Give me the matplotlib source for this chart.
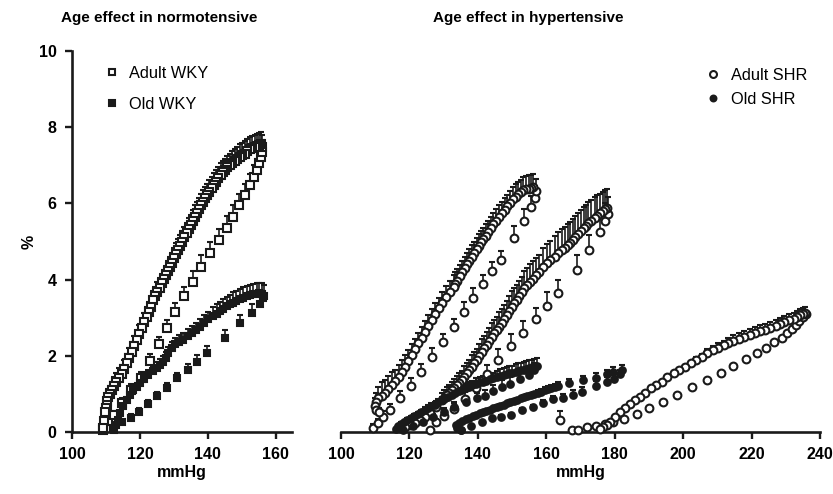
import matplotlib
matplotlib.use("Agg")
import matplotlib.pyplot as plt
from matplotlib.lines import Line2D
import numpy as np

plt.rcParams['font.family'] = ['Liberation Sans', 'DejaVu Sans']

INK = '#1a1a1a'

# ---------------- Age effect in normotensive (WKY) ----------------
# each loop: sparse lower branch ("up") and dense upper branch ("down")
wky_adult_up_x = [109.1, 110.6, 112.3, 114.6, 117.4, 120.3, 122.9, 125.7, 128.1, 130.4,
                  132.9, 135.7, 138.1, 140.6, 143.2, 145.5, 147.3, 149.2, 150.9, 152.4,
                  153.5, 154.3, 155.1, 155.6, 155.9, 156.0]
wky_adult_up_y = [0.05, 0.30, 0.45, 0.75, 1.10, 1.42, 1.86, 2.30, 2.74, 3.16,
                  3.57, 3.95, 4.34, 4.69, 5.04, 5.36, 5.65, 5.96, 6.22, 6.48,
                  6.70, 6.88, 7.05, 7.21, 7.36, 7.49]
wky_adult_up_err = [0.0, 0.1, 0.1, 0.15, 0.15, 0.15, 0.2, 0.2, 0.2, 0.22,
                    0.25, 0.28, 0.3, 0.3, 0.3, 0.3, 0.3, 0.3, 0.3, 0.3,
                    0.3, 0.3, 0.3, 0.3, 0.3, 0.3]

wky_adult_down_x = [155.6, 155.0, 154.4, 153.8, 153.1, 152.4, 151.6, 150.9, 150.1, 149.4,
                    148.6, 147.9, 147.2, 146.5, 145.7, 145.0, 144.3, 143.7, 143.0, 142.4,
                    141.7, 141.1, 140.4, 139.8, 139.2, 138.6, 138.0, 137.4, 136.8, 136.2,
                    135.5, 134.9, 134.3, 133.7, 133.1, 132.5, 131.9, 131.3, 130.6, 130.0,
                    129.4, 128.8, 128.2, 127.6, 127.0, 126.4, 125.8, 125.1, 124.5, 123.9,
                    123.2, 122.6, 122.0, 121.2, 120.5, 119.8, 119.0, 118.3, 117.6, 116.8,
                    116.1, 115.4, 114.6, 113.9, 113.1, 112.4, 111.7, 111.2, 110.7, 110.4,
                    110.2, 109.9, 109.7, 109.4, 109.2]
wky_adult_down_y = [7.55, 7.53, 7.51, 7.49, 7.46, 7.42, 7.37, 7.31, 7.27, 7.23,
                    7.18, 7.12, 7.07, 7.01, 6.95, 6.88, 6.82, 6.75, 6.66, 6.57,
                    6.49, 6.40, 6.31, 6.22, 6.14, 6.05, 5.95, 5.85, 5.75, 5.65,
                    5.54, 5.43, 5.33, 5.22, 5.11, 5.00, 4.89, 4.78, 4.67, 4.56,
                    4.45, 4.34, 4.23, 4.12, 4.01, 3.90, 3.79, 3.68, 3.57, 3.46,
                    3.29, 3.16, 3.03, 2.88, 2.72, 2.57, 2.41, 2.26, 2.11, 1.95,
                    1.80, 1.65, 1.52, 1.42, 1.30, 1.20, 1.10, 1.01, 0.93, 0.82,
                    0.71, 0.62, 0.53, 0.30, 0.10]
wky_adult_down_err = [0.32, 0.32, 0.32, 0.32, 0.32, 0.32, 0.32, 0.32, 0.32, 0.32,
                      0.3, 0.3, 0.3, 0.3, 0.3, 0.3, 0.3, 0.3, 0.3, 0.3,
                      0.3, 0.3, 0.3, 0.3, 0.3, 0.3, 0.3, 0.3, 0.3, 0.3,
                      0.28, 0.28, 0.28, 0.28, 0.28, 0.28, 0.28, 0.28, 0.28, 0.28,
                      0.25, 0.25, 0.25, 0.25, 0.25, 0.25, 0.25, 0.25, 0.25, 0.25,
                      0.25, 0.25, 0.25, 0.25, 0.25, 0.25, 0.25, 0.25, 0.25, 0.25,
                      0.25, 0.25, 0.25, 0.25, 0.25, 0.25, 0.2, 0.2, 0.2, 0.15,
                      0.15, 0.1, 0.1, 0.05, 0.0]

wky_old_up_x = [112.2, 114.6, 117.3, 119.7, 122.4, 125.1, 128.0, 131.0, 134.0, 136.9,
                139.8, 145.1, 149.4, 153.0, 155.3, 156.3]
wky_old_up_y = [0.10, 0.27, 0.38, 0.52, 0.73, 0.94, 1.16, 1.41, 1.64, 1.85,
                2.07, 2.46, 2.85, 3.12, 3.36, 3.51]
wky_old_up_err = [0.05, 0.05, 0.08, 0.1, 0.1, 0.1, 0.12, 0.15, 0.15, 0.18,
                  0.2, 0.22, 0.22, 0.25, 0.25, 0.2]

wky_old_down_x = [156.5, 155.8, 155.0, 154.3, 153.3, 152.4, 151.4, 150.4, 149.4, 148.4,
                  147.5, 146.5, 145.5, 144.5, 143.5, 142.6, 141.4, 140.1, 138.8, 137.6,
                  136.4, 135.2, 134.0, 132.7, 131.5, 130.3, 129.3, 128.3, 127.6, 126.9,
                  126.0, 124.9, 123.7, 122.4, 121.2, 120.0, 119.0, 118.0, 117.1, 116.1,
                  115.1, 114.1, 113.4, 112.9, 112.5]
wky_old_down_y = [3.58, 3.63, 3.64, 3.63, 3.62, 3.60, 3.57, 3.53, 3.49, 3.44,
                  3.40, 3.36, 3.30, 3.24, 3.17, 3.11, 3.04, 2.96, 2.86, 2.76,
                  2.67, 2.59, 2.51, 2.42, 2.37, 2.30, 2.20, 2.08, 1.95, 1.84,
                  1.76, 1.68, 1.59, 1.50, 1.39, 1.28, 1.19, 1.09, 0.97, 0.84,
                  0.67, 0.49, 0.32, 0.18, 0.06]
wky_old_down_err = [0.27, 0.27, 0.27, 0.27, 0.27, 0.27, 0.27, 0.27, 0.27, 0.27,
                    0.27, 0.25, 0.25, 0.25, 0.25, 0.25, 0.25, 0.2, 0.2, 0.2,
                    0.2, 0.2, 0.2, 0.18, 0.18, 0.18, 0.15, 0.15, 0.15, 0.15,
                    0.15, 0.15, 0.12, 0.12, 0.12, 0.1, 0.1, 0.1, 0.08, 0.08,
                    0.05, 0.05, 0.05, 0.03, 0.0]

# ---------------- Age effect in hypertensive (SHR) ----------------
# adult SHR, three pressure loops
shr1_up_x = [109.4, 110.9, 112.4, 114.3, 117.3, 120.4, 123.5, 126.5, 129.7, 132.9,
             135.8, 138.7, 141.6, 144.2, 146.7, 150.7, 153.5, 155.6, 156.7, 157.0]
shr1_up_y = [0.10, 0.23, 0.40, 0.58, 0.88, 1.22, 1.58, 1.98, 2.35, 2.76,
             3.16, 3.53, 3.88, 4.22, 4.51, 5.10, 5.55, 5.90, 6.15, 6.33]
shr1_up_err = [0.1, 0.1, 0.15, 0.15, 0.2, 0.2, 0.2, 0.22, 0.22, 0.22,
               0.25, 0.25, 0.25, 0.25, 0.25, 0.3, 0.3, 0.3, 0.3, 0.3]

shr1_down_x = [156.2, 155.5, 154.8, 154.0, 153.3, 152.5, 151.8, 151.0, 150.2, 149.4,
               148.6, 147.8, 147.0, 146.1, 145.3, 144.5, 143.8, 143.0, 142.3, 141.6,
               140.9, 140.3, 139.7, 138.9, 138.2, 137.5, 136.8, 136.1, 135.4, 134.7,
               134.0, 133.4, 132.9, 131.8, 130.7, 129.6, 128.5, 127.5, 126.5, 125.5,
               124.6, 123.6, 122.6, 121.6, 120.7, 119.7, 118.7, 117.7, 116.8, 115.8,
               114.8, 113.8, 112.9, 111.9, 110.9, 110.2, 109.9, 110.3, 111.2]
shr1_down_y = [6.42, 6.41, 6.39, 6.37, 6.35, 6.30, 6.24, 6.18, 6.11, 6.02,
               5.93, 5.84, 5.74, 5.65, 5.55, 5.45, 5.35, 5.25, 5.15, 5.06,
               4.98, 4.89, 4.80, 4.70, 4.60, 4.50, 4.40, 4.30, 4.20, 4.09,
               3.97, 3.89, 3.81, 3.68, 3.55, 3.40, 3.25, 3.10, 2.94, 2.78,
               2.63, 2.48, 2.33, 2.17, 2.02, 1.86, 1.71, 1.58, 1.45, 1.34,
               1.23, 1.12, 1.02, 0.95, 0.88, 0.78, 0.68, 0.58, 0.52]
shr1_down_err = [0.35, 0.35, 0.35, 0.35, 0.35, 0.32, 0.32, 0.32, 0.32, 0.32,
                 0.3, 0.3, 0.3, 0.3, 0.3, 0.3, 0.3, 0.3, 0.3, 0.3,
                 0.3, 0.3, 0.3, 0.3, 0.3, 0.3, 0.3, 0.3, 0.3, 0.3,
                 0.3, 0.3, 0.3, 0.28, 0.28, 0.28, 0.28, 0.28, 0.28, 0.28,
                 0.28, 0.28, 0.28, 0.28, 0.28, 0.28, 0.3, 0.3, 0.3, 0.3,
                 0.35, 0.35, 0.35, 0.35, 0.3, 0.25, 0.2, 0.15, 0.1]

shr2_up_x = [126.0, 127.8, 130.0, 132.9, 136.2, 139.5, 142.8, 146.0, 149.7, 153.3,
             156.9, 160.3, 163.4, 168.9, 172.6, 175.6, 177.2, 178.0]
shr2_up_y = [0.05, 0.25, 0.42, 0.60, 0.86, 1.16, 1.52, 1.89, 2.26, 2.61,
             2.96, 3.32, 3.64, 4.25, 4.78, 5.25, 5.55, 5.72]
shr2_up_err = [0.05, 0.1, 0.15, 0.2, 0.2, 0.25, 0.25, 0.3, 0.3, 0.3,
               0.3, 0.35, 0.35, 0.4, 0.4, 0.45, 0.45, 0.45]

shr2_down_x = [177.8, 177.2, 176.5, 175.7, 174.9, 174.1, 173.2, 172.3, 171.6, 170.9,
               170.1, 169.4, 168.5, 167.7, 167.0, 166.3, 165.4, 164.6, 163.5, 162.4,
               161.2, 160.1, 159.0, 158.0, 157.0, 156.0, 155.2, 154.5, 153.6, 152.8,
               152.1, 151.4, 150.6, 149.9, 149.1, 148.4, 147.7, 147.0, 146.2, 145.5,
               144.8, 144.1, 143.3, 142.6, 141.8, 141.1, 140.4, 139.7, 138.9, 138.2,
               137.5, 136.8, 136.0, 135.3, 134.5, 133.8, 133.1, 132.4, 131.6, 130.9,
               130.1, 129.4, 127.7, 126.0, 124.5, 123.1, 121.6, 120.2, 118.7, 117.3]
shr2_down_y = [5.88, 5.85, 5.80, 5.74, 5.67, 5.61, 5.55, 5.48, 5.42, 5.35,
               5.28, 5.20, 5.12, 5.04, 4.97, 4.90, 4.84, 4.78, 4.69, 4.60,
               4.51, 4.43, 4.32, 4.21, 4.12, 4.03, 3.95, 3.86, 3.77, 3.68,
               3.57, 3.46, 3.38, 3.29, 3.18, 3.07, 2.96, 2.85, 2.76, 2.68,
               2.59, 2.50, 2.39, 2.28, 2.20, 2.11, 2.00, 1.89, 1.80, 1.71,
               1.62, 1.54, 1.45, 1.36, 1.29, 1.23, 1.16, 1.10, 1.03, 0.97,
               0.90, 0.84, 0.66, 0.49, 0.40, 0.31, 0.24, 0.18, 0.13, 0.10]
shr2_down_err = [0.5, 0.5, 0.5, 0.5, 0.55, 0.55, 0.55, 0.55, 0.55, 0.55,
                 0.55, 0.55, 0.55, 0.55, 0.55, 0.55, 0.55, 0.55, 0.55, 0.55,
                 0.5, 0.5, 0.5, 0.45, 0.45, 0.45, 0.45, 0.45, 0.45, 0.4,
                 0.4, 0.4, 0.4, 0.4, 0.4, 0.38, 0.38, 0.38, 0.38, 0.35,
                 0.35, 0.35, 0.35, 0.35, 0.32, 0.32, 0.3, 0.3, 0.3, 0.3,
                 0.28, 0.28, 0.28, 0.25, 0.25, 0.25, 0.22, 0.22, 0.2, 0.2,
                 0.2, 0.18, 0.15, 0.12, 0.1, 0.08, 0.05, 0.05, 0.03, 0.0]

shr3_up_x = [164.0, 167.5, 169.4, 171.8, 174.5, 177.2, 179.6, 182.7, 186.4, 190.1,
             194.2, 198.3, 202.7, 206.9, 211.0, 214.7, 218.3, 221.5, 224.3, 226.6,
             228.8, 230.3, 231.8, 233.0, 234.0, 235.0, 236.0]
shr3_up_y = [0.31, 0.06, 0.05, 0.14, 0.15, 0.21, 0.25, 0.33, 0.46, 0.62,
             0.78, 0.98, 1.17, 1.36, 1.54, 1.73, 1.91, 2.07, 2.21, 2.37,
             2.48, 2.59, 2.70, 2.81, 2.92, 3.03, 3.10]
shr3_up_err = [0.25, 0.0, 0.0, 0.0, 0.0, 0.0, 0.0, 0.0, 0.0, 0.0,
               0.0, 0.0, 0.0, 0.0, 0.0, 0.0, 0.0, 0.0, 0.0, 0.0,
               0.0, 0.0, 0.05, 0.05, 0.05, 0.05, 0.05]

shr3_down_x = [235.7, 234.9, 234.2, 233.3, 232.3, 231.0, 229.6, 228.3, 227.0, 225.5,
               224.0, 222.5, 221.1, 219.5, 217.8, 216.3, 214.7, 213.2, 211.8, 210.3,
               208.8, 206.9, 205.5, 203.8, 202.3, 200.6, 198.9, 197.2, 195.4, 193.8,
               192.1, 190.6, 188.9, 187.4, 186.0, 184.5, 183.1, 181.6, 180.1, 178.7,
               177.7, 176.6, 175.7]
shr3_down_y = [3.12, 3.10, 3.07, 3.03, 2.98, 2.94, 2.90, 2.84, 2.78, 2.73,
               2.69, 2.65, 2.61, 2.55, 2.49, 2.44, 2.40, 2.34, 2.28, 2.21,
               2.15, 2.07, 1.98, 1.89, 1.80, 1.71, 1.63, 1.54, 1.44, 1.32,
               1.23, 1.15, 1.03, 0.93, 0.84, 0.73, 0.62, 0.52, 0.40, 0.27,
               0.18, 0.12, 0.08]
shr3_down_err = [0.15, 0.15, 0.15, 0.15, 0.15, 0.15, 0.15, 0.15, 0.15, 0.15,
                 0.15, 0.15, 0.15, 0.15, 0.15, 0.15, 0.15, 0.12, 0.12, 0.12,
                 0.12, 0.1, 0.08, 0.08, 0.05, 0.05, 0.05, 0.03, 0.03, 0.0,
                 0.0, 0.0, 0.0, 0.0, 0.0, 0.0, 0.0, 0.0, 0.0, 0.0,
                 0.0, 0.0, 0.0]

# old SHR, two pressure loops
oshr1_up_x = [118.0, 121.0, 124.0, 127.0, 130.0, 133.0, 136.5, 139.7, 142.0, 144.5,
              147.0, 149.5, 152.3, 154.8, 156.5]
oshr1_up_y = [0.05, 0.15, 0.27, 0.40, 0.52, 0.65, 0.78, 0.88, 0.95, 1.08,
              1.18, 1.26, 1.39, 1.50, 1.62]
oshr1_up_err = [0.0, 0.05, 0.05, 0.08, 0.1, 0.1, 0.12, 0.15, 0.15, 0.15,
                0.18, 0.18, 0.2, 0.2, 0.2]

oshr1_down_x = [157.2, 156.5, 155.8, 155.0, 154.2, 153.4, 152.6, 151.8, 151.0, 150.0,
                149.2, 148.4, 147.5, 146.5, 145.5, 144.5, 143.5, 142.5, 141.5, 140.5,
                139.4, 138.4, 137.4, 136.4, 135.4, 134.4, 133.4, 132.4, 131.4, 130.4,
                129.4, 128.4, 127.4, 126.4, 125.4, 124.4, 123.4, 122.4, 121.4, 120.4,
                119.4, 118.4, 117.4, 116.6, 116.2]
oshr1_down_y = [1.73, 1.72, 1.70, 1.68, 1.66, 1.64, 1.62, 1.60, 1.58, 1.56,
                1.54, 1.52, 1.50, 1.47, 1.44, 1.41, 1.38, 1.35, 1.32, 1.30,
                1.27, 1.23, 1.19, 1.15, 1.11, 1.07, 1.02, 0.98, 0.93, 0.88,
                0.83, 0.78, 0.72, 0.67, 0.62, 0.57, 0.52, 0.47, 0.42, 0.37,
                0.32, 0.27, 0.22, 0.15, 0.08]
oshr1_down_err = [0.2, 0.2, 0.2, 0.2, 0.2, 0.2, 0.2, 0.2, 0.2, 0.18,
                  0.18, 0.18, 0.18, 0.18, 0.15, 0.15, 0.15, 0.15, 0.15, 0.15,
                  0.15, 0.12, 0.12, 0.12, 0.12, 0.12, 0.1, 0.1, 0.1, 0.1,
                  0.1, 0.08, 0.08, 0.08, 0.08, 0.08, 0.05, 0.05, 0.05, 0.05,
                  0.05, 0.03, 0.03, 0.0, 0.0]

oshr2_up_x = [135.0, 138.0, 141.1, 144.1, 146.8, 149.7, 152.8, 156.0, 159.0, 162.1,
              165.0, 167.7, 170.4, 174.6, 177.7, 179.9, 181.6]
oshr2_up_y = [0.05, 0.15, 0.25, 0.36, 0.40, 0.45, 0.58, 0.66, 0.75, 0.86,
              0.90, 0.97, 1.06, 1.21, 1.32, 1.39, 1.52]
oshr2_up_err = [0.0, 0.0, 0.03, 0.03, 0.05, 0.05, 0.05, 0.05, 0.08, 0.08,
                0.1, 0.12, 0.12, 0.12, 0.12, 0.12, 0.12]

oshr2_down_x = [182.1, 179.6, 177.7, 174.6, 170.6, 166.5, 163.5, 162.5, 161.5, 160.5,
                159.5, 158.5, 157.5, 156.5, 155.5, 154.5, 153.5, 152.5, 151.5, 150.5,
                149.5, 148.5, 147.5, 146.5, 145.5, 144.5, 143.5, 142.5, 141.5, 140.5,
                139.5, 138.5, 137.5, 136.5, 135.5, 134.5, 133.5, 134.0, 135.0]
oshr2_down_y = [1.63, 1.58, 1.52, 1.43, 1.36, 1.28, 1.21, 1.18, 1.15, 1.12,
                1.09, 1.06, 1.03, 1.00, 0.97, 0.94, 0.91, 0.88, 0.85, 0.82,
                0.78, 0.75, 0.72, 0.69, 0.66, 0.62, 0.59, 0.55, 0.52, 0.49,
                0.45, 0.42, 0.38, 0.33, 0.28, 0.23, 0.18, 0.10, 0.05]
oshr2_down_err = [0.12, 0.12, 0.12, 0.12, 0.12, 0.12, 0.1, 0.08, 0.08, 0.08,
                  0.08, 0.08, 0.06, 0.06, 0.06, 0.06, 0.05, 0.05, 0.05, 0.05,
                  0.05, 0.05, 0.04, 0.04, 0.04, 0.04, 0.03, 0.03, 0.03, 0.03,
                  0.0, 0.0, 0.0, 0.0, 0.0, 0.0, 0.0, 0.0, 0.0]


def draw_branch(ax, x, y, err, marker, filled, ms):
    err = np.asarray(err)
    face = INK if filled else 'white'
    ax.errorbar(x, y, yerr=[np.zeros_like(err), err], fmt=marker, ms=ms,
                mfc=face, mec=INK, mew=1.5, ecolor=INK, elinewidth=1.2,
                capsize=2.4, capthick=1.2, clip_on=False, zorder=3)


def style_axis(ax, show_y):
    for side in ['top', 'right']:
        ax.spines[side].set_visible(False)
    ax.spines['bottom'].set_linewidth(1.9)
    ax.spines['left'].set_linewidth(1.9)
    ax.spines['bottom'].set_color(INK)
    ax.spines['left'].set_color(INK)
    ax.tick_params(direction='out', length=5, width=1.7, color=INK,
                   labelsize=11.5, pad=6)
    for lab in ax.get_xticklabels() + ax.get_yticklabels():
        lab.set_fontweight('bold')
    if not show_y:
        ax.spines['left'].set_visible(False)
        ax.tick_params(axis='y', left=False, labelleft=False)
    ax.set_ylim(0, 10)
    ax.set_xlabel('mmHg', fontsize=11.5, fontweight='bold', labelpad=2)


fig = plt.figure(figsize=(8.33, 4.94), dpi=100)
ax1 = fig.add_axes([0.0864, 0.1255, 0.264, 0.771])
ax2 = fig.add_axes([0.4094, 0.1255, 0.575, 0.771])

# left panel
draw_branch(ax1, wky_adult_up_x, wky_adult_up_y, wky_adult_up_err, 's', False, 5.2)
draw_branch(ax1, wky_adult_down_x, wky_adult_down_y, wky_adult_down_err, 's', False, 5.2)
draw_branch(ax1, wky_old_up_x, wky_old_up_y, wky_old_up_err, 's', True, 5.0)
draw_branch(ax1, wky_old_down_x, wky_old_down_y, wky_old_down_err, 's', True, 5.0)
ax1.set_xlim(100, 164.7)
ax1.set_xticks([100, 120, 140, 160])
ax1.set_yticks([0, 2, 4, 6, 8, 10])
ax1.set_ylabel('%', fontsize=11.5, fontweight='bold')
ax1.yaxis.set_label_coords(-0.16, 0.5)
style_axis(ax1, True)

leg1 = [Line2D([], [], ls='none', marker='s', ms=5.0, mfc='white', mec=INK, mew=1.5, label='Adult WKY'),
        Line2D([], [], ls='none', marker='s', ms=5.0, mfc=INK, mec=INK, mew=1.5, label='Old WKY')]
ax1.legend(handles=leg1, loc='upper left', bbox_to_anchor=(0.085, 0.995), frameon=False,
           fontsize=11.8, handlelength=1.0, handletextpad=0.55, labelspacing=0.95, borderpad=0.3)

# right panel
for xs, ys, es in [(shr1_up_x, shr1_up_y, shr1_up_err), (shr1_down_x, shr1_down_y, shr1_down_err),
                   (shr2_up_x, shr2_up_y, shr2_up_err), (shr2_down_x, shr2_down_y, shr2_down_err),
                   (shr3_up_x, shr3_up_y, shr3_up_err), (shr3_down_x, shr3_down_y, shr3_down_err)]:
    draw_branch(ax2, xs, ys, es, 'o', False, 5.6)
for xs, ys, es in [(oshr1_up_x, oshr1_up_y, oshr1_up_err), (oshr1_down_x, oshr1_down_y, oshr1_down_err),
                   (oshr2_up_x, oshr2_up_y, oshr2_up_err), (oshr2_down_x, oshr2_down_y, oshr2_down_err)]:
    draw_branch(ax2, xs, ys, es, 'o', True, 4.8)
ax2.set_xlim(100, 240)
ax2.set_xticks([100, 120, 140, 160, 180, 200, 220, 240])
style_axis(ax2, False)

leg2 = [Line2D([], [], ls='none', marker='o', ms=5.0, mfc='white', mec=INK, mew=1.5, label='Adult SHR'),
        Line2D([], [], ls='none', marker='o', ms=4.2, mfc=INK, mec=INK, mew=1.5, label='Old SHR')]
ax2.legend(handles=leg2, loc='upper right', bbox_to_anchor=(1.0, 0.99), frameon=False,
           fontsize=11.8, handlelength=1.0, handletextpad=0.55, labelspacing=0.55, borderpad=0.3)

fig.text(0.191, 0.963, 'Age effect in normotensive', ha='center', va='center',
         fontsize=11, fontweight='bold')
fig.text(0.634, 0.963, 'Age effect in hypertensive', ha='center', va='center',
         fontsize=11, fontweight='bold')

fig.savefig('out.png', dpi=100)
